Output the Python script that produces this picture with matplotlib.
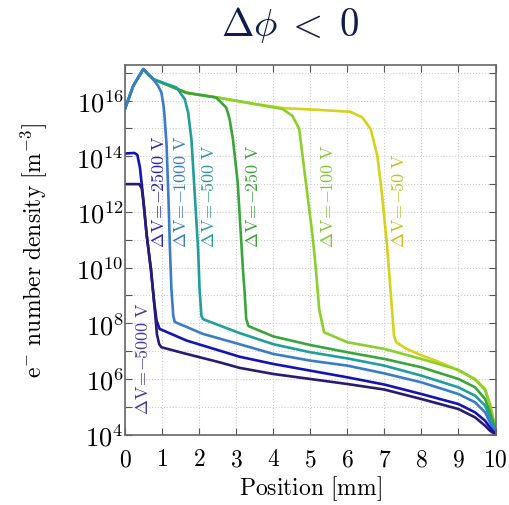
import numpy as np
import matplotlib
matplotlib.use("Agg")
import matplotlib.pyplot as plt
from matplotlib.ticker import FixedLocator, FuncFormatter

plt.rcParams['mathtext.fontset'] = 'cm'
plt.rcParams['font.family'] = 'serif'

# exponents (log10 of density), position in mm
x_50 = [0, 0.22, 0.49, 0.76, 1.66, 2.55, 3.36, 4.27, 5.18, 6.08, 6.4, 6.63, 6.81, 6.94, 7.08, 7.17,
        7.26, 7.32, 7.6, 8.02, 8.5, 8.91, 9.45, 9.72, 9.85, 9.95, 10]
n_50 = [15.72, 16.53, 17.13, 16.77, 16.28, 16.1, 15.91, 15.73, 15.67, 15.6, 15.4, 14.98, 14.02, 12.58,
        10.67, 9.11, 7.55, 7.32, 7.08, 6.84, 6.6, 6.36, 6.0, 5.64, 5.1, 4.5, 4.0]

x_100 = [0, 0.22, 0.49, 0.76, 1.66, 2.55, 3.36, 4.25, 4.52, 4.7, 4.88, 5.06, 5.15, 5.24, 5.37,
         6.0, 7.0, 8.0, 9.0, 9.45, 9.72, 9.85, 9.95, 10]
n_100 = [15.72, 16.53, 17.13, 16.77, 16.28, 16.1, 15.91, 15.7, 15.45, 14.98, 13.06, 11.15, 9.95, 8.51,
         7.68, 7.32, 7.08, 6.72, 6.33, 5.98, 5.6, 5.08, 4.5, 4.0]

x_250 = [0, 0.22, 0.49, 0.76, 1.66, 2.46, 2.73, 2.82, 2.91, 3.04, 3.18, 3.22, 3.27, 3.33, 4.0, 5.0,
         6.0, 7.0, 8.0, 9.0, 9.45, 9.72, 9.85, 9.95, 10]
n_250 = [15.72, 16.53, 17.13, 16.77, 16.28, 16.11, 15.75, 15.34, 14.62, 13.06, 9.95, 9.23, 8.15, 7.9,
         7.53, 7.22, 6.96, 6.72, 6.42, 6.0, 5.7, 5.28, 4.8, 4.4, 4.0]

x_500 = [0, 0.22, 0.49, 0.76, 1.39, 1.61, 1.7, 1.79, 1.97, 2.01, 2.06, 2.1, 3.09, 4.0, 5.0, 6.0, 7.0,
         8.0, 9.0, 9.45, 9.72, 9.85, 9.95, 10]
n_500 = [15.72, 16.53, 17.13, 16.77, 16.47, 16.05, 15.58, 14.62, 10.67, 9.23, 8.27, 8.15, 7.65, 7.25,
         6.96, 6.74, 6.48, 6.12, 5.7, 5.4, 5.04, 4.62, 4.3, 4.0]

x_1000 = [0, 0.22, 0.49, 0.76, 0.89, 0.98, 1.04, 1.07, 1.12, 1.17, 1.21, 1.25, 1.3, 1.34, 2.1, 3.09,
          4.0, 5.0, 6.0, 7.0, 8.0, 9.0, 9.45, 9.72, 9.85, 9.95, 10]
n_1000 = [15.72, 16.53, 17.13, 16.77, 16.53, 16.29, 15.8, 15.34, 14.4, 12.5, 10.67, 9.23, 8.27, 8.05,
          7.62, 7.25, 6.9, 6.66, 6.48, 6.2, 5.88, 5.46, 5.16, 4.8, 4.44, 4.2, 4.0]

x_2500 = [0, 0.25, 0.33, 0.4, 0.48, 0.58, 0.7, 0.78, 0.85, 0.93, 1.66, 2.55, 3.09, 4.0, 5.0, 6.0, 7.0,
          8.0, 9.0, 9.45, 9.72, 9.85, 9.95, 10]
n_2500 = [14.1, 14.12, 14.05, 13.6, 12.6, 11.2, 9.9, 8.8, 8.1, 7.8, 7.38, 7.02, 6.8, 6.54, 6.3, 6.06,
          5.8, 5.46, 5.1, 4.8, 4.5, 4.26, 4.1, 4.0]

x_5000 = [0, 0.38, 0.45, 0.5, 0.58, 0.7, 0.78, 0.86, 0.92, 0.98, 1.66, 2.55, 3.09, 4.0, 5.0, 6.0, 7.0,
          8.0, 9.0, 9.45, 9.72, 9.85, 9.95, 10]
n_5000 = [13.0, 13.0, 12.85, 12.3, 11.2, 9.9, 8.8, 7.6, 7.25, 7.14, 6.9, 6.6, 6.4, 6.18, 6.0, 5.82,
          5.62, 5.28, 4.92, 4.62, 4.32, 4.14, 4.05, 4.0]

voltages = [50, 100, 250, 500, 1000, 2500, 5000]
xs = [x_50, x_100, x_250, x_500, x_1000, x_2500, x_5000]
ns = [n_50, n_100, n_250, n_500, n_1000, n_2500, n_5000]
colors = ['#d6d21a', '#8ad02a', '#3aa53a', '#1f9e9a', '#3a7cc8', '#1414b4', '#2a1a74']
label_colors = ['#c8c020', '#86c83a', '#3aa53a', '#2a9e9a', '#3a7cc8', '#2a2ab4', '#4a3a9c']
label_x = [7.4, 5.48, 3.44, 2.27, 1.52, 0.91, 0.47]
label_y = [10.74, 10.74, 10.74, 10.74, 10.74, 10.74, 4.74]

fig = plt.figure(figsize=(5.09, 5.06), dpi=100)
ax = fig.add_axes([0.2458, 0.139, 0.7277, 0.7306])

for x, n, c in zip(xs, ns, colors):
    ax.semilogy(x, 10.0 ** np.array(n), color=c, lw=1.9, solid_joinstyle='round')

for v, lx, ly, c in zip(voltages, label_x, label_y, label_colors):
    ax.text(lx, 10.0 ** ly, r'$\Delta\mathrm{V}\!=\!\!-\!\!%d\ \mathrm{V}$' % v, rotation=90,
            ha='center', va='bottom', color=c, fontsize=13)

ax.set_xlim(0, 10)
ax.set_ylim(1e4, 10 ** 17.28)
ax.xaxis.set_major_locator(FixedLocator(range(0, 11)))
ax.xaxis.set_major_formatter(FuncFormatter(lambda v, p: r'$%d$' % v))
ax.yaxis.set_major_locator(FixedLocator([10.0 ** k for k in range(4, 18)]))
ax.yaxis.set_minor_locator(FixedLocator([]))
ax.yaxis.set_major_formatter(FuncFormatter(
    lambda v, p: r'$10^{%d}$' % round(np.log10(v)) if round(np.log10(v)) % 2 == 0 else ''))
ax.tick_params(which='both', direction='in', top=True, right=True, length=5, color='#555555')
ax.tick_params(axis='x', labelsize=17, pad=9)
ax.tick_params(axis='y', labelsize=19, pad=1)
ax.grid(True, color='#cccccc', linestyle=':', linewidth=0.8)
for s in ax.spines.values():
    s.set_color('#666666')
    s.set_linewidth(1.2)

ax.set_xlabel(r'$\mathrm{Position\ [mm]}$', fontsize=17)
ax.set_ylabel(r'$\mathrm{e}^{-}\ \mathrm{number\ density\ [m}^{-3}\mathrm{]}$', fontsize=17)
ax.xaxis.set_label_coords(0.5, -0.105)
ax.yaxis.set_label_coords(-0.205, 0.5)

fig.text(0.57, 0.95, r'$\Delta\phi\;<\;0$', ha='center', va='center', fontsize=28, color='#101c4a')

fig.savefig('out.png', dpi=100)
